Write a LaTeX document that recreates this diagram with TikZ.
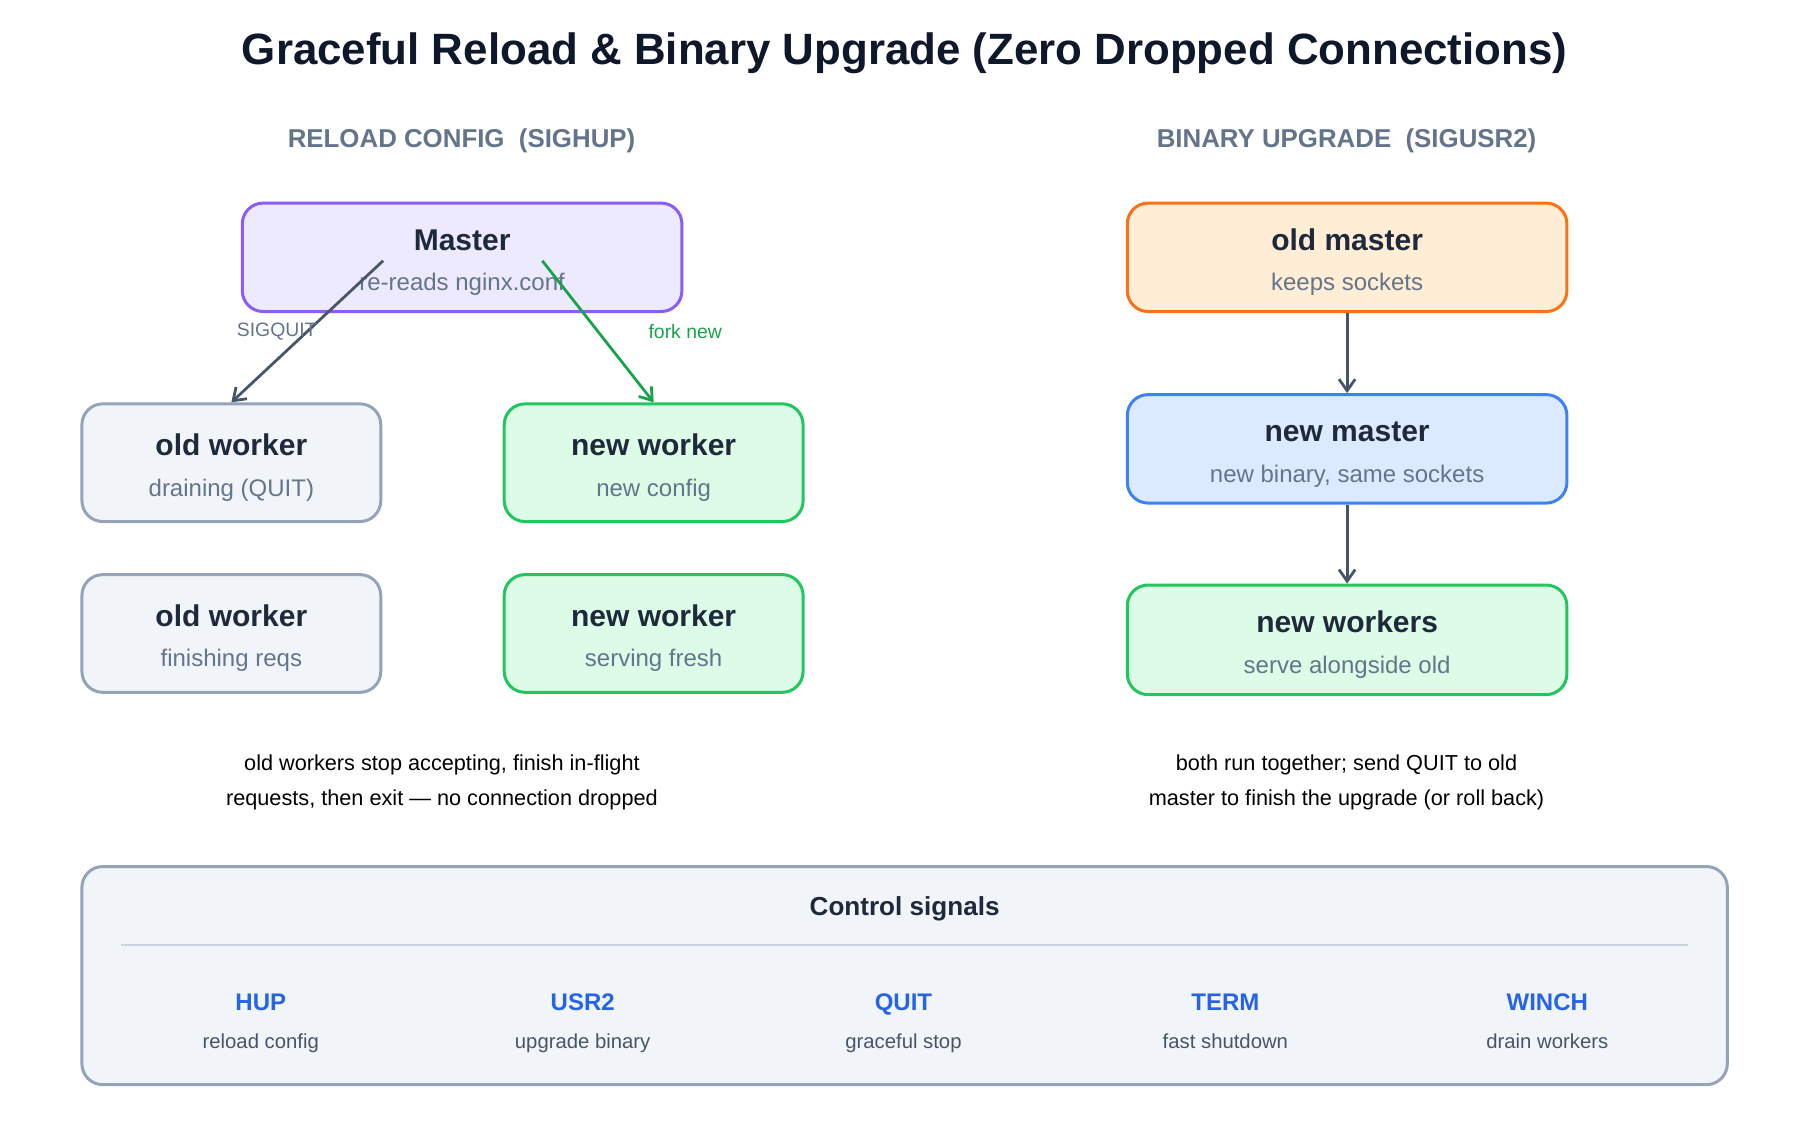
\documentclass[tikz,border=0pt]{standalone}
\usepackage{fontspec}
\setmainfont{Liberation Sans}
\usetikzlibrary{arrows.meta}
\definecolor{ink}{HTML}{1E293B}
\definecolor{muted}{HTML}{64748B}
\definecolor{edge}{HTML}{475569}
\definecolor{okgreen}{HTML}{16A34A}
\definecolor{sigblue}{HTML}{2563EB}
\tikzset{
  box/.style={draw,rounded corners=9pt,line width=1.3pt,minimum width=#1},
  box/.default=190.5pt,
  purplebox/.style={box,fill={rgb,255:red,237;green,233;blue,254},draw={rgb,255:red,139;green,92;blue,246},minimum height=47pt},
  greybox/.style={box=129.5pt,fill={rgb,255:red,241;green,245;blue,249},draw={rgb,255:red,148;green,163;blue,184},minimum height=51pt},
  greenbox/.style={box=129.5pt,fill={rgb,255:red,220;green,252;blue,231},draw={rgb,255:red,34;green,197;blue,94},minimum height=51pt},
  orangebox/.style={box,fill={rgb,255:red,255;green,237;blue,213},draw={rgb,255:red,249;green,115;blue,22},minimum height=47pt},
  bluebox/.style={box,fill={rgb,255:red,219;green,234;blue,254},draw={rgb,255:red,59;green,130;blue,246},minimum height=47pt},
  bigbox/.style={box,fill={rgb,255:red,220;green,252;blue,231},draw={rgb,255:red,34;green,197;blue,94},minimum height=47.5pt},
  head/.style={font=\fontsize{13}{15}\selectfont\bfseries,text=ink,anchor=base},
  sub/.style={font=\fontsize{10.4}{12}\selectfont,text=muted,anchor=base},
  flow/.style={line width=1.2pt,-{Straight Barb[length=5pt,width=7pt]}},
  note/.style={font=\fontsize{9.4}{15.5}\selectfont,text=black,align=center},
  sig/.style={font=\fontsize{10.4}{12}\selectfont\bfseries,text=sigblue,anchor=base},
  sigtext/.style={font=\fontsize{8.8}{10}\selectfont,text=edge,anchor=base}
}
\begin{document}
\begin{tikzpicture}[x=0.5pt,y=-0.5pt]
\useasboundingbox (0,0) rectangle (1560,971);
% title and section heads
\node[font=\fontsize{19}{23}\selectfont\bfseries,text={rgb,255:red,15;green,23;blue,42}] (title) at (784,46) {Graceful Reload \& Binary Upgrade (Zero Dropped Connections)};
\node[font=\fontsize{11.2}{13}\selectfont\bfseries,text=muted] (lhead) at (400,122) {RELOAD CONFIG\ \ (SIGHUP)};
\node[font=\fontsize{11.2}{13}\selectfont\bfseries,text=muted] (rhead) at (1167,122) {BINARY UPGRADE\ \ (SIGUSR2)};
% reload side
\node[purplebox] (master) at (400.5,223) {};
\node[greybox] (old1) at (200.5,401) {};
\node[greenbox] (new1) at (566.5,401) {};
\node[greybox] (old2) at (200.5,549) {};
\node[greenbox] (new2) at (566.5,549) {};
\foreach \b/\h/\s in {master/Master/re-reads nginx.conf, old1/old worker/draining (QUIT), new1/new worker/new config, old2/old worker/finishing reqs, new2/new worker/serving fresh}{
  \node[head] at ([yshift=3pt]\b.center) {\h};
  \node[sub] at ([yshift=-14.5pt]\b.center) {\s};
}
\coordinate (q0) at (332,226);
\coordinate (f0) at (470,226);
\draw[flow,edge] (q0) -- (old1.north) node[pos=0.5,left=-8pt,font=\fontsize{8.4}{10}\selectfont,text=muted]{SIGQUIT};
\draw[flow,okgreen] (f0) -- (new1.north) node[pos=0.5,right=18pt,font=\fontsize{8.4}{10}\selectfont]{fork new};
\node[note] (lnote) at (383,678) {old workers stop accepting, finish in-flight\\requests, then exit — no connection dropped};
% upgrade side
\node[orangebox] (omaster) at (1167.5,223) {};
\node[bluebox] (nmaster) at (1167.5,389) {};
\node[bigbox] (nworkers) at (1167.5,554.5) {};
\foreach \b/\h/\s in {omaster/old master/keeps sockets, nmaster/new master/{new binary, same sockets}, nworkers/new workers/serve alongside old}{
  \node[head] at ([yshift=3pt]\b.center) {\h};
  \node[sub] at ([yshift=-14.5pt]\b.center) {\s};
}
\draw[flow,edge] (omaster) -- (nmaster);
\draw[flow,edge] (nmaster) -- (nworkers);
\node[note] (rnote) at (1167,678) {both run together; send QUIT to old\\master to finish the upgrade (or roll back)};
% control signals
\draw[rounded corners=9pt,line width=1.3pt,fill={rgb,255:red,241;green,245;blue,249},draw={rgb,255:red,148;green,163;blue,184}] (71,751) rectangle (1497,940);
\node[font=\fontsize{11.3}{13}\selectfont\bfseries,text=ink] (ctitle) at (784,788) {Control signals};
\draw[line width=0.6pt,draw={rgb,255:red,203;green,213;blue,225}] (105,819) -- (1463,819);
\foreach \x/\n/\d in {226/HUP/reload config, 505/USR2/upgrade binary, 783/QUIT/graceful stop, 1062/TERM/fast shutdown, 1341/WINCH/drain workers}{
  \node[sig] (s\n) at (\x,876) {\n};
  \node[sigtext] at (\x,909) {\d};
}
\end{tikzpicture}
\end{document}
